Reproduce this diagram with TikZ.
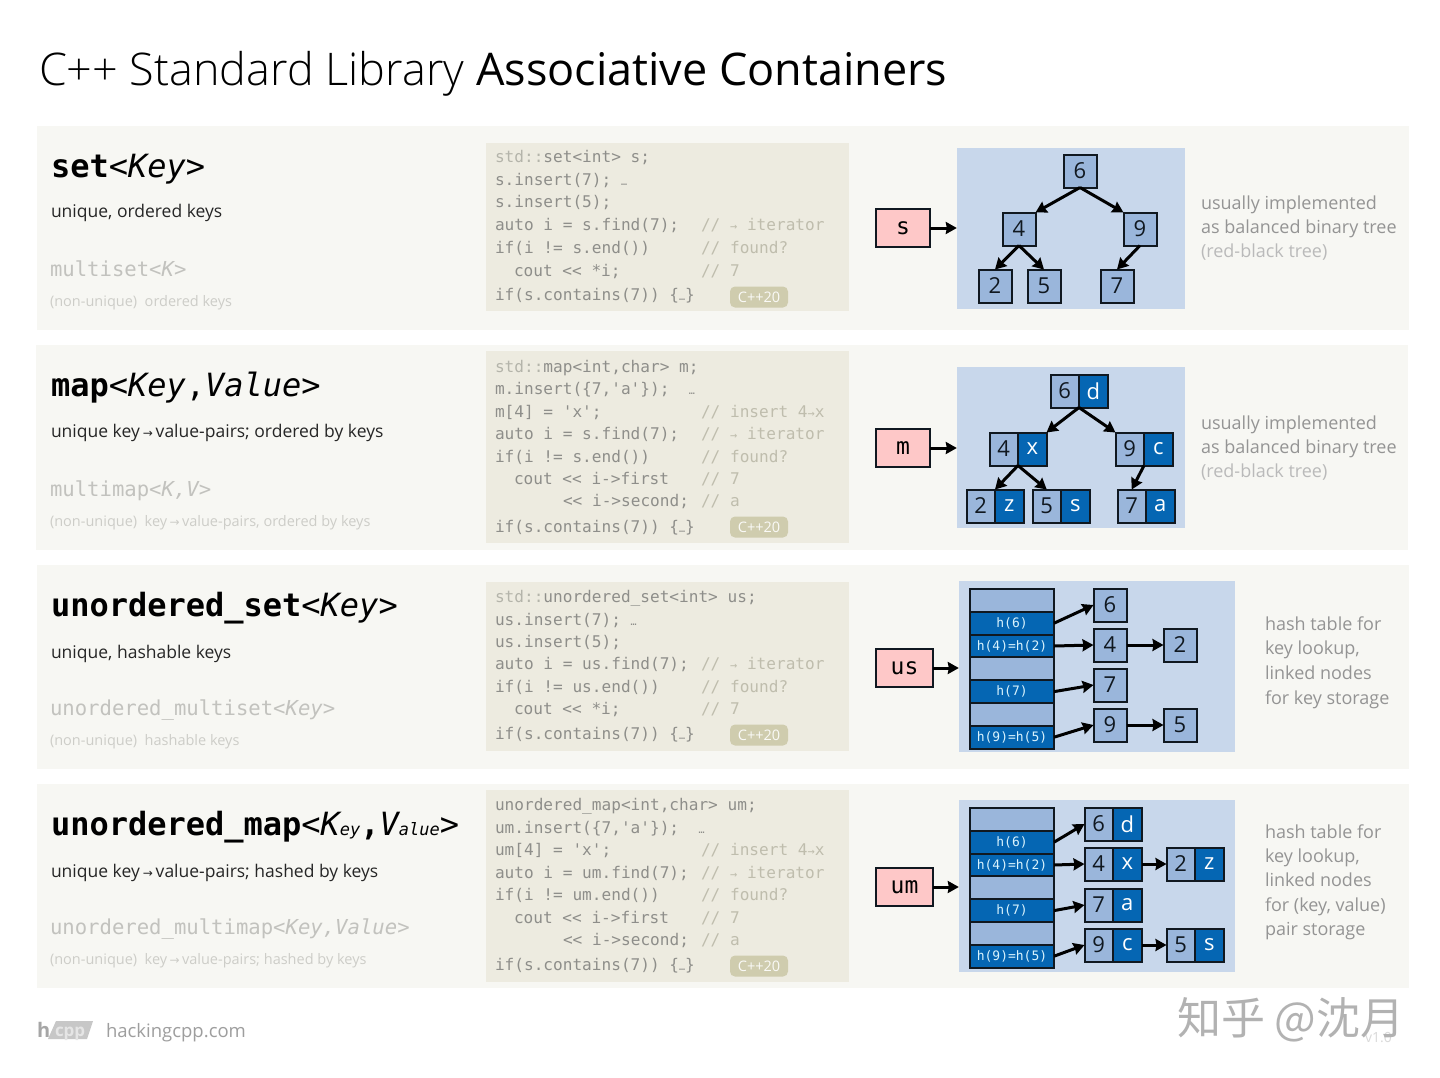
\documentclass[tikz,border=0pt]{standalone}
\usepackage{fontspec}
\usepackage{xcolor}
\usetikzlibrary{arrows.meta,calc}
\setmainfont{Open Sans}
\newfontfamily\lightf{Open Sans Light}
\newfontfamily\codef{DejaVu Sans Mono}
\newfontfamily\arrf{DejaVu Sans}
\newfontfamily\cjkf{Noto Sans CJK SC}

\definecolor{band}{HTML}{F7F7F3}
\definecolor{codebg}{HTML}{EDEBE0}
\definecolor{badge}{HTML}{CFCCAE}
\definecolor{panel}{HTML}{C8D7EB}
\definecolor{keyfill}{HTML}{9AB6DB}
\definecolor{valfill}{HTML}{0566B3}
\definecolor{pink}{HTML}{FEC8C8}
\definecolor{ink}{HTML}{101820}
\definecolor{codetxt}{HTML}{8E8E8A}
\definecolor{stdtxt}{HTML}{B4B4AA}
\definecolor{comtxt}{HTML}{BFBDAD}
\definecolor{fainttxt}{HTML}{CDCDC8}
\definecolor{midtxt}{HTML}{C2C2BE}

\newcommand\fsz[1]{\fontsize{#1}{#1}\selectfont}
\newcounter{tn}
% plain text line, left aligned on its baseline
\newcommand\txt[4]{\stepcounter{tn}\node[txtline,#3] (t\arabic{tn}) at (#1,#2) {#4};}
% filled rectangle given by corners
\newcommand\boxy[6]{\node[#1,minimum width={(#5-#3)*1pt},minimum height={(#6-#4)*1pt}] (#2) at ({(#3+#5)/2},{(#4+#6)/2}) {};}
\newcommand\keyn[4]{\node[keybox] (#1) at (#2,#3) {#4};}
% key/value pair, x is the divider between both halves
\newcommand\pairn[5]{%
  \node[keybox,minimum width=28.5pt,anchor=east] (#1k) at (#2,#3) {#4};
  \node[valbox,anchor=west] (#1v) at (#2,#3) {#5};}
\newcommand\hashrows[3]{% name, x-left, y-top
  \foreach \i/\lab/\st in {1//keyrow,2/h(6)/valrow,3/h(4)=h(2)/valrow,4//keyrow,5/h(7)/valrow,6//keyrow,7/h(9)=h(5)/valrow}{
    \node[\st] (#1\i) at ({#2+42},{#3+11.4+22.8*(\i-1)}) {\lab};
  }}
\newcommand\code[2]{{\color{stdtxt}#1}#2}
\newcommand\rarr{{\arrf\fontsize{12}{12}\selectfont→}}

\tikzset{
  x=1pt,y=-1pt,
  txtline/.style={anchor=base west,inner sep=0pt,outer sep=0pt},
  bandbox/.style={fill=band,inner sep=0pt},
  codebox/.style={fill=codebg,inner sep=0pt},
  panelbox/.style={fill=panel,inner sep=0pt},
  cell/.style={draw=ink,line width=2pt,inner sep=0pt,outer sep=0pt,font=\fsz{22}},
  keybox/.style={cell,fill=keyfill,minimum width=33pt,minimum height=33pt,text=ink},
  valbox/.style={cell,fill=valfill,minimum width=28.5pt,minimum height=33pt,text=white},
  keyrow/.style={cell,fill=keyfill,minimum width=84pt,minimum height=22.8pt},
  valrow/.style={cell,fill=valfill,minimum width=84pt,minimum height=22.8pt,text=white!85!cyan,font=\codef\fsz{13}},
  handle/.style={cell,fill=pink,text=black,minimum width=54pt,minimum height=38pt,font=\codef\fsz{23}},
  arr/.style={line width=3pt,draw=black,-{Stealth[length=11pt,width=12pt,inset=1pt]}},
  titleline/.style={txtline,font=\fsz{45}},
  headline/.style={txtline,font=\codef\fsz{32},text=black},
  descline/.style={txtline,font=\fsz{17.5},text=black!85},
  altline/.style={txtline,font=\codef\fsz{20.6},text=midtxt},
  altdesc/.style={txtline,font=\fsz{14.5},text=fainttxt},
  codeline/.style={txtline,font=\codef\fsz{16.1},text=codetxt},
  comline/.style={txtline,font=\codef\fsz{16.1},text=comtxt},
  badgebox/.style={fill=badge,rounded corners=5pt,inner sep=0pt,minimum width=58pt,minimum height=21pt,text=white!90!badge,font=\fsz{14.5}},
  noteline/.style={txtline,font=\fsz{18},text=black!42},
  notelight/.style={txtline,font=\fsz{18},text=black!27},
}

\begin{document}
\begin{tikzpicture}
\useasboundingbox (0,0) rectangle (1440,1077);
\fill[white] (0,0) rectangle (1440,1077);

% title
\txt{39}{85}{titleline}{{\lightf C++ Standard Library} Associative Containers}

% bands
\boxy{bandbox}{b1}{37}{126}{1409}{330}
\boxy{bandbox}{b2}{36}{345}{1408}{550}
\boxy{bandbox}{b3}{37}{565}{1409}{769}
\boxy{bandbox}{b4}{37}{784}{1409}{988}
% code backgrounds
\boxy{codebox}{c1}{486}{143}{849}{311}
\boxy{codebox}{c2}{486}{351}{849}{543}
\boxy{codebox}{c3}{486}{582}{849}{751}
\boxy{codebox}{c4}{486}{790}{849}{982}

% left column
\txt{51}{177}{headline}{\textbf{set}<{\itshape Key}>}
\txt{51}{217}{descline}{unique, ordered keys}
\txt{50}{276}{altline}{multiset<{\itshape K}>}
\txt{50}{306}{altdesc}{(non-unique)\ \ ordered keys}

\txt{51}{396}{headline}{\textbf{map}<{\itshape Key},{\itshape Value}>}
\txt{51}{437}{descline}{unique key\,\rarr\,value-pairs; ordered by keys}
\txt{50}{496}{altline}{multimap<{\itshape K,V}>}
\txt{50}{526}{altdesc}{(non-unique)\ \ key\,\rarr\,value-pairs,\ ordered by keys}

\txt{51}{616}{headline}{\textbf{unordered\_set}<{\itshape Key}>}
\txt{51}{658}{descline}{unique, hashable keys}
\txt{50}{715}{altline}{unordered\_multiset<{\itshape Key}>}
\txt{50}{745}{altdesc}{(non-unique)\ \ hashable keys}

\txt{51}{835}{headline}{\textbf{unordered\_map}<{\itshape K{\fsz{17}ey}}\textbf{,}{\itshape V{\fsz{17}alue}}>}
\txt{51}{877}{descline}{unique key\,\rarr\,value-pairs; hashed by keys}
\txt{50}{934}{altline}{unordered\_multimap<{\itshape Key,Value}>}
\txt{50}{964}{altdesc}{(non-unique)\ \ key\,\rarr\,value-pairs;\ hashed by keys}

% code: set
\txt{495}{162}{codeline}{\code{std::}{set<int> s;}}
\txt{495}{185}{codeline}{s.insert(7); {\fsz{10}…}}
\txt{495}{207}{codeline}{s.insert(5);}
\txt{495}{230}{codeline}{auto i = s.find(7);}
\txt{701}{230}{comline}{// {\fsz{12}→} iterator}
\txt{495}{253}{codeline}{if(i != s.end())}
\txt{701}{253}{comline}{// found?}
\txt{514}{276}{codeline}{cout << *i;}
\txt{701}{276}{comline}{// 7}
\txt{495}{300}{codeline}{if(s.contains(7)) \{{\fsz{10}…}\}}
\node[badgebox] (cpp1) at (759,297) {C++20};

% code: map
\txt{495}{372}{codeline}{\code{std::}{map<int,char> m;}}
\txt{495}{394}{codeline}{m.insert(\{7,'a'\});\ \ {\fsz{10}…}}
\txt{495}{417}{codeline}{m[4] = 'x';}
\txt{701}{417}{comline}{// insert 4{\fsz{12}→}x}
\txt{495}{439}{codeline}{auto i = s.find(7);}
\txt{701}{439}{comline}{// {\fsz{12}→} iterator}
\txt{495}{462}{codeline}{if(i != s.end())}
\txt{701}{462}{comline}{// found?}
\txt{514}{484}{codeline}{cout << i->first}
\txt{701}{484}{comline}{// 7}
\txt{563}{506}{codeline}{<< i->second;}
\txt{701}{506}{comline}{// a}
\txt{495}{532}{codeline}{if(s.contains(7)) \{{\fsz{10}…}\}}
\node[badgebox] (cpp2) at (759,527) {C++20};

% code: unordered_set
\txt{495}{602}{codeline}{\code{std::}{unordered\_set<int> us;}}
\txt{495}{625}{codeline}{us.insert(7); {\fsz{10}…}}
\txt{495}{647}{codeline}{us.insert(5);}
\txt{495}{669}{codeline}{auto i = us.find(7);}
\txt{701}{669}{comline}{// {\fsz{12}→} iterator}
\txt{495}{692}{codeline}{if(i != us.end())}
\txt{701}{692}{comline}{// found?}
\txt{514}{714}{codeline}{cout << *i;}
\txt{701}{714}{comline}{// 7}
\txt{495}{739}{codeline}{if(s.contains(7)) \{{\fsz{10}…}\}}
\node[badgebox] (cpp3) at (759,735) {C++20};

% code: unordered_map
\txt{495}{810}{codeline}{unordered\_map<int,char> um;}
\txt{495}{833}{codeline}{um.insert(\{7,'a'\});\ \ {\fsz{10}…}}
\txt{495}{855}{codeline}{um[4] = 'x';}
\txt{701}{855}{comline}{// insert 4{\fsz{12}→}x}
\txt{495}{878}{codeline}{auto i = um.find(7);}
\txt{701}{878}{comline}{// {\fsz{12}→} iterator}
\txt{495}{900}{codeline}{if(i != um.end())}
\txt{701}{900}{comline}{// found?}
\txt{514}{923}{codeline}{cout << i->first}
\txt{701}{923}{comline}{// 7}
\txt{563}{945}{codeline}{<< i->second;}
\txt{701}{945}{comline}{// a}
\txt{495}{970}{codeline}{if(s.contains(7)) \{{\fsz{10}…}\}}
\node[badgebox] (cpp4) at (759,966) {C++20};

% set: tree
\boxy{panelbox}{p1}{957}{148}{1185}{309}
\node[handle] (hs) at (903,228) {s};
\keyn{a6}{1080}{171}{6}
\keyn{a4}{1019}{229}{4}
\keyn{a9}{1140}{229}{9}
\keyn{a2}{995}{286}{2}
\keyn{a5}{1044}{286}{5}
\keyn{a7}{1117}{286}{7}
\draw[arr] (hs.east) -- (hs.east -| p1.west);
\draw[arr] (a6.south) -- (a4.north east);
\draw[arr] (a6.south) -- (a9.north west);
\draw[arr] (a4.south) -- (a2.north);
\draw[arr] (a4.south) -- (a5.north);
\draw[arr] (a9.south) -- (a7.north);

% map: tree
\boxy{panelbox}{p2}{957}{367}{1185}{528}
\node[handle] (hm) at (903,448) {m};
\pairn{b6}{1079}{391}{6}{d}
\pairn{b4}{1018}{449}{4}{x}
\pairn{b9}{1144}{449}{9}{c}
\pairn{b2}{995}{506}{2}{z}
\pairn{b5}{1061}{506}{5}{s}
\pairn{b7}{1146}{506}{7}{a}
\draw[arr] (hm.east) -- (hm.east -| p2.west);
\draw[arr] (b6k.south east) -- (b4v.north east);
\draw[arr] (b6k.south east) -- (b9k.north west);
\draw[arr] (b4k.south east) -- (b2k.north east);
\draw[arr] (b4k.south east) -- (b5k.north);
\draw[arr] (b9k.south east) -- (b7k.north);

% unordered_set: hash table
\boxy{panelbox}{p3}{959}{581}{1235}{752}
\node[handle,minimum width=57pt] (hu) at (904.5,668) {us};
\hashrows{r}{970}{589}
\keyn{c6}{1110}{605}{6}
\keyn{c4}{1110}{645}{4}
\keyn{c2}{1180}{645}{2}
\keyn{c7}{1110}{685}{7}
\keyn{c9}{1110}{725}{9}
\keyn{c5}{1180}{725}{5}
\draw[arr] (hu.east) -- (hu.east -| p3.west);
\draw[arr] (r2.east) -- (c6.west);
\draw[arr] (r3.east) -- (c4.west);
\draw[arr] (c4.east) -- (c2.west);
\draw[arr] (r5.east) -- (c7.west);
\draw[arr] (r7.east) -- (c9.west);
\draw[arr] (c9.east) -- (c5.west);

% unordered_map: hash table
\boxy{panelbox}{p4}{959}{800}{1235}{972}
\node[handle,minimum width=57pt] (hn) at (904.5,887) {um};
\hashrows{w}{970}{808}
\pairn{d6}{1113}{824}{6}{d}
\pairn{d4}{1113}{864}{4}{x}
\pairn{d2}{1195}{864}{2}{z}
\pairn{d7}{1113}{905}{7}{a}
\pairn{d9}{1113}{945}{9}{c}
\pairn{d5}{1195}{945}{5}{s}
\draw[arr] (hn.east) -- (hn.east -| p4.west);
\draw[arr] (w2.east) -- (d6k.west);
\draw[arr] (w3.east) -- (d4k.west);
\draw[arr] (d4v.east) -- (d2k.west);
\draw[arr] (w5.east) -- (d7k.west);
\draw[arr] (w7.east) -- (d9k.west);
\draw[arr] (d9v.east) -- (d5k.west);

% side notes
\txt{1201}{209}{noteline}{usually implemented}
\txt{1201}{233}{noteline}{as balanced binary tree}
\txt{1201}{257}{notelight}{(red-black tree)}
\txt{1201}{429}{noteline}{usually implemented}
\txt{1201}{453}{noteline}{as balanced binary tree}
\txt{1201}{477}{notelight}{(red-black tree)}
\txt{1265}{630}{noteline}{hash table for}
\txt{1265}{654}{noteline}{key lookup,}
\txt{1265}{679}{noteline}{linked nodes}
\txt{1265}{704}{noteline}{for key storage}
\txt{1265}{838}{noteline}{hash table for}
\txt{1265}{862}{noteline}{key lookup,}
\txt{1265}{886}{noteline}{linked nodes}
\txt{1265}{911}{noteline}{for (key, value)}
\txt{1265}{935}{noteline}{pair storage}

% footer
\txt{37}{1037}{font=\fsz{20}\bfseries,text=black!35}{h}
\fill[black!22] (48,1039) -- (56,1021) -- (93,1021) -- (87,1039) -- cycle;
\txt{55}{1036}{font=\fsz{17}\bfseries,text=white!90!black}{cpp}
\txt{106}{1037}{font=\fsz{18.5},text=black!38}{hackingcpp.com}
\txt{1365}{1042}{font=\fsz{14},text=black!15}{v1.0}
\txt{1177}{1034}{font=\cjkf\fsz{44},text=black!30}{知乎 @沈月}
\end{tikzpicture}
\end{document}
